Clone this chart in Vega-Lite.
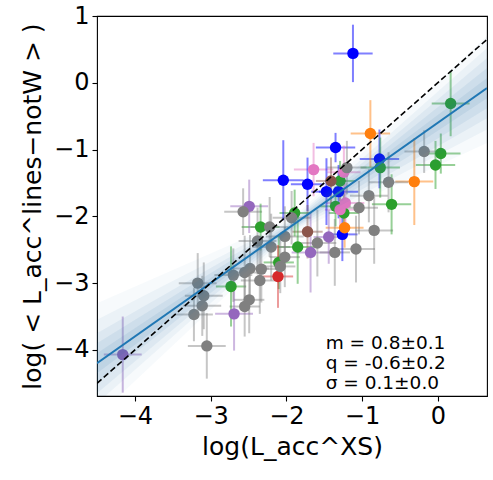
{
  "$schema": "https://vega.github.io/schema/vega-lite/v6.json",
  "width": 390,
  "height": 380,
  "autosize": "none",
  "padding": {"left": 97, "top": 16, "right": 6, "bottom": 84},
  "background": "white",
  "datasets": {
    "pts": [
      {"x": -1.12, "y": 0.44, "ex": 0.26, "ey": 0.43, "c": "blue"},
      {"x": -1.35, "y": -0.97, "ex": 0.26, "ey": 0.22, "c": "blue"},
      {"x": -0.77, "y": -1.14, "ex": 0.26, "ey": 0.44, "c": "blue"},
      {"x": -2.04, "y": -1.46, "ex": 0.27, "ey": 0.6, "c": "blue"},
      {"x": -1.72, "y": -1.52, "ex": 0.22, "ey": 0.4, "c": "blue"},
      {"x": -1.47, "y": -1.63, "ex": 0.2, "ey": 0.5, "c": "blue"},
      {"x": -1.31, "y": -1.63, "ex": 0.26, "ey": 0.4, "c": "blue"},
      {"x": -1.26, "y": -2.27, "ex": 0.2, "ey": 0.4, "c": "blue"},
      {"x": 0.17, "y": -0.31, "ex": 0.25, "ey": 0.49, "c": "green"},
      {"x": 0.04, "y": -1.06, "ex": 0.26, "ey": 0.3, "c": "green"},
      {"x": -0.03, "y": -1.23, "ex": 0.26, "ey": 0.36, "c": "green"},
      {"x": -0.76, "y": -1.27, "ex": 0.26, "ey": 0.45, "c": "green"},
      {"x": -1.29, "y": -1.47, "ex": 0.2, "ey": 0.3, "c": "green"},
      {"x": -0.61, "y": -1.82, "ex": 0.26, "ey": 0.45, "c": "green"},
      {"x": -1.35, "y": -1.85, "ex": 0.2, "ey": 0.3, "c": "green"},
      {"x": -1.24, "y": -1.95, "ex": 0.2, "ey": 0.3, "c": "green"},
      {"x": -1.89, "y": -1.95, "ex": 0.2, "ey": 0.35, "c": "green"},
      {"x": -2.34, "y": -2.16, "ex": 0.25, "ey": 0.35, "c": "green"},
      {"x": -1.85, "y": -2.46, "ex": 0.25, "ey": 0.55, "c": "green"},
      {"x": -2.1, "y": -2.69, "ex": 0.2, "ey": 0.4, "c": "green"},
      {"x": -2.73, "y": -3.05, "ex": 0.2, "ey": 0.6, "c": "green"},
      {"x": -0.89, "y": -0.76, "ex": 0.26, "ey": 0.5, "c": "orange"},
      {"x": -0.31, "y": -1.48, "ex": 0.25, "ey": 0.65, "c": "orange"},
      {"x": -1.23, "y": -2.17, "ex": 0.25, "ey": 0.3, "c": "orange"},
      {"x": -1.64, "y": -1.3, "ex": 0.26, "ey": 0.4, "c": "pink"},
      {"x": -1.24, "y": -1.34, "ex": 0.22, "ey": 0.4, "c": "pink"},
      {"x": -1.22, "y": -1.8, "ex": 0.25, "ey": 0.3, "c": "pink"},
      {"x": -1.29, "y": -1.9, "ex": 0.2, "ey": 0.3, "c": "pink"},
      {"x": -2.49, "y": -1.85, "ex": 0.25, "ey": 0.4, "c": "purple"},
      {"x": -1.44, "y": -2.31, "ex": 0.2, "ey": 0.4, "c": "purple"},
      {"x": -1.68, "y": -2.54, "ex": 0.25, "ey": 0.6, "c": "purple"},
      {"x": -2.69, "y": -3.46, "ex": 0.25, "ey": 0.55, "c": "purple"},
      {"x": -4.16, "y": -4.07, "ex": 0.25, "ey": 0.57, "c": "purple"},
      {"x": -1.41, "y": -1.47, "ex": 0.2, "ey": 0.35, "c": "brown"},
      {"x": -1.72, "y": -2.23, "ex": 0.2, "ey": 0.4, "c": "brown"},
      {"x": -2.11, "y": -2.9, "ex": 0.2, "ey": 0.47, "c": "red"},
      {"x": -0.18, "y": -1.03, "ex": 0.26, "ey": 0.32, "c": "gray"},
      {"x": -1.2, "y": -1.27, "ex": 0.26, "ey": 0.4, "c": "gray"},
      {"x": -0.65, "y": -1.49, "ex": 0.26, "ey": 0.45, "c": "gray"},
      {"x": -0.91, "y": -1.69, "ex": 0.25, "ey": 0.4, "c": "gray"},
      {"x": -1.04, "y": -1.87, "ex": 0.25, "ey": 0.4, "c": "gray"},
      {"x": -2.57, "y": -1.93, "ex": 0.25, "ey": 0.35, "c": "gray"},
      {"x": -1.93, "y": -2.02, "ex": 0.25, "ey": 0.4, "c": "gray"},
      {"x": -2.22, "y": -2.16, "ex": 0.25, "ey": 0.45, "c": "gray"},
      {"x": -0.84, "y": -2.21, "ex": 0.25, "ey": 0.5, "c": "gray"},
      {"x": -1.59, "y": -2.4, "ex": 0.25, "ey": 0.5, "c": "gray"},
      {"x": -2.02, "y": -2.3, "ex": 0.25, "ey": 0.45, "c": "gray"},
      {"x": -2.38, "y": -2.37, "ex": 0.25, "ey": 0.5, "c": "gray"},
      {"x": -2.2, "y": -2.46, "ex": 0.25, "ey": 0.5, "c": "gray"},
      {"x": -1.36, "y": -2.54, "ex": 0.2, "ey": 0.5, "c": "gray"},
      {"x": -1.08, "y": -2.49, "ex": 0.25, "ey": 0.5, "c": "gray"},
      {"x": -2.02, "y": -2.61, "ex": 0.2, "ey": 0.45, "c": "gray"},
      {"x": -2.08, "y": -2.75, "ex": 0.2, "ey": 0.4, "c": "gray"},
      {"x": -2.33, "y": -2.79, "ex": 0.25, "ey": 0.5, "c": "gray"},
      {"x": -2.48, "y": -2.78, "ex": 0.25, "ey": 0.5, "c": "gray"},
      {"x": -2.55, "y": -2.84, "ex": 0.25, "ey": 0.55, "c": "gray"},
      {"x": -2.35, "y": -2.96, "ex": 0.25, "ey": 0.5, "c": "gray"},
      {"x": -2.7, "y": -2.88, "ex": 0.25, "ey": 0.4, "c": "gray"},
      {"x": -3.17, "y": -3.0, "ex": 0.25, "ey": 0.45, "c": "gray"},
      {"x": -3.09, "y": -3.19, "ex": 0.25, "ey": 0.5, "c": "gray"},
      {"x": -3.11, "y": -3.34, "ex": 0.25, "ey": 0.45, "c": "gray"},
      {"x": -3.22, "y": -3.47, "ex": 0.25, "ey": 0.4, "c": "gray"},
      {"x": -2.49, "y": -3.25, "ex": 0.2, "ey": 0.5, "c": "gray"},
      {"x": -2.55, "y": -3.35, "ex": 0.2, "ey": 0.45, "c": "gray"},
      {"x": -3.05, "y": -3.94, "ex": 0.25, "ey": 0.49, "c": "gray"}
    ],
    "band": [
      {"x": -4.5, "lo1": -4.35, "hi1": -4.05, "lo2": -4.5, "hi2": -3.9, "lo3": -4.65, "hi3": -3.75, "lo4": -4.8, "hi4": -3.55, "lo5": -5.0, "hi5": -3.3},
      {"x": -1.9, "lo1": -2.14, "hi1": -2.1, "lo2": -2.16, "hi2": -2.08, "lo3": -2.18, "hi3": -2.06, "lo4": -2.2, "hi4": -2.04, "lo5": -2.23, "hi5": -2.01},
      {"x": 0.65, "lo1": -0.23, "hi1": 0.07, "lo2": -0.38, "hi2": 0.22, "lo3": -0.53, "hi3": 0.37, "lo4": -0.7, "hi4": 0.52, "lo5": -0.9, "hi5": 0.7}
    ],
    "fit": [
      {"x": -4.5, "y": -4.2},
      {"x": 0.65, "y": -0.08}
    ],
    "one": [
      {"x": -4.5, "y": -4.5},
      {"x": 0.65, "y": 0.65}
    ],
    "stats": [
      {"x": -1.48, "y": -3.9, "t": "m = 0.8±0.1"},
      {"x": -1.48, "y": -4.2, "t": "q = -0.6±0.2"},
      {"x": -1.48, "y": -4.5, "t": "σ = 0.1±0.0"}
    ]
  },
  "layer": [
    {
      "data": {"name": "pts"},
      "mark": {"type": "errorbar", "ticks": false, "rule": {"strokeWidth": 2}},
      "encoding": {
        "x": {"field": "x", "type": "quantitative", "title": "log(L_acc^XS)", "scale": {"domain": [-4.5, 0.65], "nice": false, "zero": false},
          "axis": {"values": [-4, -3, -2, -1, 0], "format": "d", "titlePadding": 6}},
        "xError": {"field": "ex"},
        "y": {"field": "y", "type": "quantitative", "title": "log( < L_acc^lines−notW > )", "scale": {"domain": [-4.69, 1.0], "nice": false, "zero": false},
          "axis": {"values": [-4, -3, -2, -1, 0, 1], "format": "d", "titlePadding": 8}},
        "color": {"field": "c", "type": "nominal", "legend": null,
          "scale": {"domain": ["blue", "green", "orange", "pink", "purple", "brown", "red", "gray"],
                    "range": ["#0000ff", "#2ca02c", "#ff7f0e", "#e377c2", "#9467bd", "#8c564b", "#d62728", "#808080"]}},
        "opacity": {"field": "c", "type": "nominal", "legend": null,
          "scale": {"domain": ["blue", "green", "orange", "pink", "purple", "brown", "red", "gray"],
                    "range": [0.5, 0.45, 0.3, 0.4, 0.4, 0.45, 0.45, 0.5]}}
      }
    },
    {
      "data": {"name": "pts"},
      "mark": {"type": "errorbar", "ticks": false, "rule": {"strokeWidth": 2}},
      "encoding": {
        "y": {"field": "y", "type": "quantitative", "title": "log( < L_acc^lines−notW > )"},
        "yError": {"field": "ey"},
        "x": {"field": "x", "type": "quantitative", "title": "log(L_acc^XS)"},
        "color": {"field": "c", "type": "nominal", "legend": null},
        "opacity": {"field": "c", "type": "nominal", "legend": null}
      }
    },
    {
      "data": {"name": "pts"},
      "mark": {"type": "circle", "size": 130, "opacity": 1},
      "encoding": {
        "x": {"field": "x", "type": "quantitative", "title": "log(L_acc^XS)"},
        "y": {"field": "y", "type": "quantitative", "title": "log( < L_acc^lines−notW > )"},
        "color": {"field": "c", "type": "nominal", "legend": null}
      }
    },
    {
      "data": {"name": "band"},
      "mark": {"type": "area", "color": "#2b74a8", "opacity": 0.04, "clip": true},
      "encoding": {
        "x": {"field": "x", "type": "quantitative", "title": "log(L_acc^XS)"},
        "y": {"field": "lo5", "type": "quantitative", "title": "log( < L_acc^lines−notW > )"},
        "y2": {"field": "hi5"}
      }
    },
    {
      "data": {"name": "band"},
      "mark": {"type": "area", "color": "#2b74a8", "opacity": 0.06, "clip": true},
      "encoding": {
        "x": {"field": "x", "type": "quantitative", "title": "log(L_acc^XS)"},
        "y": {"field": "lo4", "type": "quantitative", "title": "log( < L_acc^lines−notW > )"},
        "y2": {"field": "hi4"}
      }
    },
    {
      "data": {"name": "band"},
      "mark": {"type": "area", "color": "#2b74a8", "opacity": 0.07, "clip": true},
      "encoding": {
        "x": {"field": "x", "type": "quantitative", "title": "log(L_acc^XS)"},
        "y": {"field": "lo3", "type": "quantitative", "title": "log( < L_acc^lines−notW > )"},
        "y2": {"field": "hi3"}
      }
    },
    {
      "data": {"name": "band"},
      "mark": {"type": "area", "color": "#2b74a8", "opacity": 0.08, "clip": true},
      "encoding": {
        "x": {"field": "x", "type": "quantitative", "title": "log(L_acc^XS)"},
        "y": {"field": "lo2", "type": "quantitative", "title": "log( < L_acc^lines−notW > )"},
        "y2": {"field": "hi2"}
      }
    },
    {
      "data": {"name": "band"},
      "mark": {"type": "area", "color": "#2b74a8", "opacity": 0.09, "clip": true},
      "encoding": {
        "x": {"field": "x", "type": "quantitative", "title": "log(L_acc^XS)"},
        "y": {"field": "lo1", "type": "quantitative", "title": "log( < L_acc^lines−notW > )"},
        "y2": {"field": "hi1"}
      }
    },
    {
      "data": {"name": "fit"},
      "mark": {"type": "line", "color": "#1f77b4", "strokeWidth": 2, "clip": true},
      "encoding": {
        "x": {"field": "x", "type": "quantitative", "title": "log(L_acc^XS)"},
        "y": {"field": "y", "type": "quantitative", "title": "log( < L_acc^lines−notW > )"}
      }
    },
    {
      "data": {"name": "one"},
      "mark": {"type": "line", "color": "black", "strokeWidth": 1.6, "strokeDash": [6, 3], "clip": true},
      "encoding": {
        "x": {"field": "x", "type": "quantitative", "title": "log(L_acc^XS)"},
        "y": {"field": "y", "type": "quantitative", "title": "log( < L_acc^lines−notW > )"}
      }
    },
    {
      "data": {"name": "stats"},
      "mark": {"type": "text", "align": "left", "baseline": "middle", "font": "DejaVu Sans", "fontSize": 18.5, "color": "black"},
      "encoding": {
        "x": {"field": "x", "type": "quantitative", "title": "log(L_acc^XS)"},
        "y": {"field": "y", "type": "quantitative", "title": "log( < L_acc^lines−notW > )"},
        "text": {"field": "t"}
      }
    }
  ],
  "config": {
    "view": {"stroke": "black", "strokeWidth": 1.1},
    "axis": {
      "domain": false, "grid": false,
      "tickColor": "black", "tickSize": 5, "tickWidth": 1.1,
      "labelFont": "DejaVu Sans", "labelFontSize": 24, "labelColor": "black", "labelPadding": 3,
      "titleFont": "DejaVu Sans", "titleFontSize": 25, "titleFontWeight": "normal", "titleColor": "black"
    }
  }
}
